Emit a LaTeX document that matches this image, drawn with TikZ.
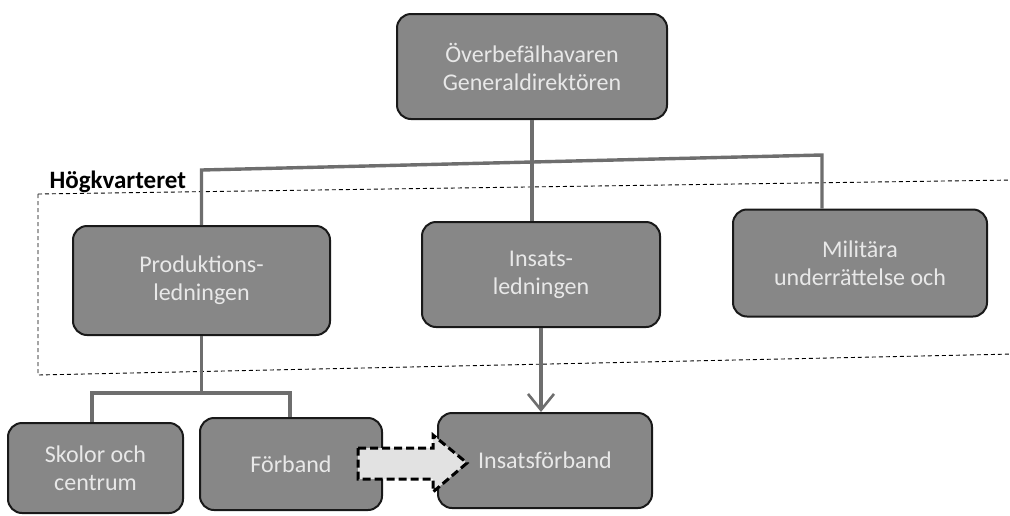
\documentclass[tikz,border=0pt]{standalone}
\usepackage{fontspec}
\usetikzlibrary{arrows.meta,calc}
\newfontfamily\carlito{Carlito}
\newcommand\boxfont{\carlito\fontsize{24}{28}\selectfont}
\newcommand\hqfont{\carlito\bfseries\fontsize{25}{28}\selectfont}
\definecolor{boxgray}{HTML}{878787}
\definecolor{linkgray}{HTML}{6E6E6E}
\definecolor{labelgray}{HTML}{E8E8E8}
\definecolor{blockfill}{HTML}{E2E2E2}
\tikzset{
  orgbox/.style={draw=black!90, line width=2pt, fill=boxgray, rounded corners=14pt,
    text=labelgray, font=\boxfont, align=center, inner sep=0pt},
  conn/.style={draw=linkgray, line width=3.4pt},
  hqframe/.style={draw=black, line width=0.9pt, dash pattern=on 4pt off 3pt},
  blockarrow/.style={draw=black, line width=3pt, dash pattern=on 8pt off 4pt,
    fill=blockfill, line join=miter}
}
\begin{document}
\begin{tikzpicture}[x=1pt,y=-1pt]
\useasboundingbox (0,0) rectangle (1010,515);
\fill[white] (0,0) rectangle (1010,515);

% headquarters frame (slightly skewed, as printed)
\draw[hqframe] (38,194) -- (1014,180);
\draw[hqframe] (38,194) -- (38,375) -- (1014,354);
\node[anchor=base west, font=\hqfont, text=black] (hq) at (46,188) {Högkvarteret};

% boxes
\node[orgbox, minimum width=270pt, minimum height=105pt] (top) at (532,66.5)
  {Överbefälhavaren\\Generaldirektören};
\node[orgbox, minimum width=257pt, minimum height=109pt] (prod) at (201.5,280.5)
  {Produktions-\\ledningen};
\node[orgbox, minimum width=238pt, minimum height=105pt] (ins) at (541,274.5)
  {Insats-\\ledningen};
\node[orgbox, minimum width=254pt, minimum height=107pt] (mil) at (860,263)
  {Militära\\underrättelse och};
\node[orgbox, minimum width=175pt, minimum height=90pt] (skol) at (95.5,468)
  {Skolor och\\centrum};
\node[orgbox, minimum width=182pt, minimum height=92pt] (forb) at (291,464)
  {Förband};
\node[orgbox, minimum width=214pt, minimum height=95pt] (insf) at (545,460.5)
  {Insatsförband};

% upper tree
\coordinate (bl) at (202,170);
\coordinate (br) at (822,155);
\draw[conn] (top.south) -- (top.south |- ins.north);
\draw[conn] (prod.north) -- (prod.north |- bl) -- (br) -- (br |- mil.north);

% production tree
\coordinate (lb) at (0,393);
\draw[conn] (prod.south) -- (prod.south |- lb);
\draw[conn] (skol.north -| 92,0) -- (92,393) -- (290,393) -- (forb.north -| 290,0);

% command line to operational units
\draw[conn, -{Straight Barb[length=16pt,width=26pt,line width=2.6pt]}]
  (ins.south) -- (ins.south |- insf.north);

% transfer block arrow
\draw[blockarrow] (358,448) -- (433,448) -- (433,435) -- (467,463) -- (433,492)
  -- (433,479) -- (358,479) -- cycle;
\end{tikzpicture}
\end{document}
